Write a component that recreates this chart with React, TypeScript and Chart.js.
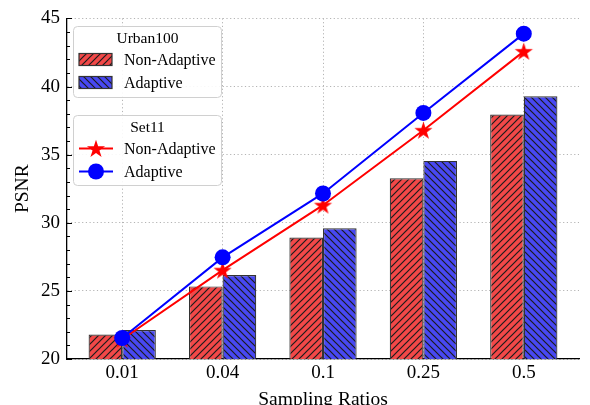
import { useEffect, useRef } from 'react';
import { Chart, registerables } from 'chart.js';

Chart.register(...registerables);

const categories = ['0.01', '0.04', '0.1', '0.25', '0.5'];
const urban100NonAdaptive = [21.8, 25.33, 28.92, 33.27, 37.94];
const urban100Adaptive = [22.13, 26.16, 29.6, 34.54, 39.28];
const set11NonAdaptive = [21.45, 26.52, 31.29, 36.79, 42.58];
const set11Adaptive = [21.54, 27.46, 32.15, 38.06, 43.88];
const yTickValues = [20, 25, 30, 35, 40, 45];
const legendTitles = ['Urban100', 'Set11'];
const seriesLabels = ['Non-Adaptive', 'Adaptive'];
const xTitle = 'Sampling Ratios';
const yTitle = 'PSNR';

const RED = '#f24848';
const BLUE = '#4848f2';
const LINE_RED = '#ff0000';
const LINE_BLUE = '#0000ff';
const SERIF = '"Liberation Serif", "DejaVu Serif", serif';
const GRID = '#b4b4b4';
const W = 590;
const H = 420;

function makeHatch(ctx: CanvasRenderingContext2D, fill: string, dir: string) {
  const s = 7;
  const c = document.createElement('canvas');
  c.width = s;
  c.height = s;
  const g = c.getContext('2d')!;
  g.fillStyle = fill;
  g.fillRect(0, 0, s, s);
  g.strokeStyle = '#1c1c1c';
  g.lineWidth = 1.2;
  g.beginPath();
  if (dir === '/') {
    g.moveTo(0, s); g.lineTo(s, 0);
    g.moveTo(-1, 1); g.lineTo(1, -1);
    g.moveTo(s - 1, s + 1); g.lineTo(s + 1, s - 1);
  } else {
    g.moveTo(0, 0); g.lineTo(s, s);
    g.moveTo(-1, s - 1); g.lineTo(1, s + 1);
    g.moveTo(s - 1, -1); g.lineTo(s + 1, 1);
  }
  g.stroke();
  return ctx.createPattern(c, 'repeat')!;
}

function starPath(ctx: CanvasRenderingContext2D, cx: number, cy: number, R: number) {
  const r = R * 0.382;
  ctx.beginPath();
  for (let i = 0; i < 10; i++) {
    const rad = i % 2 === 0 ? R : r;
    const a = -Math.PI / 2 + (i * Math.PI) / 5;
    const px = cx + rad * Math.cos(a);
    const py = cy + rad * Math.sin(a);
    if (i === 0) ctx.moveTo(px, py); else ctx.lineTo(px, py);
  }
  ctx.closePath();
}

function makeStar(color: string, R: number) {
  const size = Math.ceil(R * 2 + 2);
  const c = document.createElement('canvas');
  c.width = size;
  c.height = size;
  const g = c.getContext('2d')!;
  g.fillStyle = color;
  starPath(g, size / 2, size / 2 + 0.8, R);
  g.fill();
  return c;
}

const minorTicksPlugin = {
  id: 'minorTicks',
  afterDraw(chart: any) {
    const { ctx, chartArea } = chart;
    const y = chart.scales.y;
    ctx.save();
    ctx.strokeStyle = '#000';
    ctx.lineWidth = 1;
    for (let v = y.min; v <= y.max; v += 1) {
      const py = Math.round(y.getPixelForValue(v)) + 0.5;
      const len = v % 5 === 0 ? 5 : 3;
      ctx.beginPath();
      ctx.moveTo(chartArea.left, py);
      ctx.lineTo(chartArea.left + len, py);
      ctx.stroke();
    }
    ctx.restore();
  },
};

function roundRect(ctx: CanvasRenderingContext2D, x: number, y: number, w: number, h: number, r: number) {
  ctx.beginPath();
  ctx.moveTo(x + r, y);
  ctx.lineTo(x + w - r, y);
  ctx.arcTo(x + w, y, x + w, y + r, r);
  ctx.lineTo(x + w, y + h - r);
  ctx.arcTo(x + w, y + h, x + w - r, y + h, r);
  ctx.lineTo(x + r, y + h);
  ctx.arcTo(x, y + h, x, y + h - r, r);
  ctx.lineTo(x, y + r);
  ctx.arcTo(x, y, x + r, y, r);
  ctx.closePath();
}

const legendPlugin = {
  id: 'twoLegends',
  afterDraw(chart: any) {
    const ctx: CanvasRenderingContext2D = chart.ctx;
    const ds = chart.data.datasets;
    const groups = [
      { title: legendTitles[0], box: { x: 73.5, y: 26.5, w: 148, h: 71 }, kind: 'bar', items: [0, 1] },
      { title: legendTitles[1], box: { x: 73.5, y: 115.5, w: 148, h: 70 }, kind: 'line', items: [2, 3] },
    ];
    ctx.save();
    for (const g of groups) {
      const { x, y, w, h } = g.box;
      roundRect(ctx, x, y, w, h, 4);
      ctx.fillStyle = 'rgba(255,255,255,0.9)';
      ctx.fill();
      ctx.strokeStyle = '#d0d0d0';
      ctx.lineWidth = 1;
      ctx.stroke();
      ctx.fillStyle = '#000';
      ctx.font = `15.5px ${SERIF}`;
      ctx.textAlign = 'center';
      ctx.textBaseline = 'middle';
      ctx.fillText(g.title, x + w / 2, y + 12);
      g.items.forEach((di, k) => {
        const d = ds[di];
        const rowY = y + 33 + k * 23;
        if (g.kind === 'bar') {
          ctx.fillStyle = d.backgroundColor;
          ctx.fillRect(79, rowY - 6, 33, 12);
          ctx.strokeStyle = '#333';
          ctx.lineWidth = 1.2;
          ctx.strokeRect(79, rowY - 6, 33, 12);
        } else {
          ctx.strokeStyle = d.borderColor;
          ctx.lineWidth = 2;
          ctx.beginPath();
          ctx.moveTo(79, rowY);
          ctx.lineTo(113, rowY);
          ctx.stroke();
          ctx.fillStyle = d.borderColor;
          if (d.pointStyle === 'circle') {
            ctx.beginPath();
            ctx.arc(96, rowY, 8, 0, Math.PI * 2);
            ctx.fill();
          } else {
            starPath(ctx, 96, rowY + 0.8, 9.5);
            ctx.fill();
          }
        }
        ctx.fillStyle = '#000';
        ctx.font = `16px ${SERIF}`;
        ctx.textAlign = 'left';
        ctx.textBaseline = 'middle';
        ctx.fillText(d.label, 124, rowY + 1);
      });
    }
    ctx.restore();
  },
};

export default function App() {
  const ref = useRef<HTMLCanvasElement>(null);
  useEffect(() => {
    const canvas = ref.current!;
    const ctx = canvas.getContext('2d')!;
    const redHatch = makeHatch(ctx, RED, '/');
    const blueHatch = makeHatch(ctx, BLUE, '\\');
    const star = makeStar(LINE_RED, 9.5);
    const toXY = (arr: number[]) => arr.map((v, i) => ({ x: i, y: v }));

    const chart = new Chart(canvas, {
      type: 'bar',
      data: {
        datasets: [
          {
            type: 'bar',
            label: seriesLabels[0],
            data: toXY(urban100NonAdaptive),
            backgroundColor: redHatch,
            borderColor: '#333',
            borderWidth: 1.2,
            borderSkipped: 'start',
            categoryPercentage: 0.67,
            barPercentage: 1,
            order: 2,
          },
          {
            type: 'bar',
            label: seriesLabels[1],
            data: toXY(urban100Adaptive),
            backgroundColor: blueHatch,
            borderColor: '#333',
            borderWidth: 1.2,
            borderSkipped: 'start',
            categoryPercentage: 0.67,
            barPercentage: 1,
            order: 2,
          },
          {
            type: 'line',
            label: seriesLabels[0],
            data: toXY(set11NonAdaptive),
            borderColor: LINE_RED,
            backgroundColor: LINE_RED,
            borderWidth: 2,
            pointStyle: star,
            pointRadius: 9,
            tension: 0,
            fill: false,
            order: 1,
          },
          {
            type: 'line',
            label: seriesLabels[1],
            data: toXY(set11Adaptive),
            borderColor: LINE_BLUE,
            backgroundColor: LINE_BLUE,
            borderWidth: 2,
            pointStyle: 'circle',
            pointRadius: 8,
            pointBorderWidth: 0,
            tension: 0,
            fill: false,
            order: 0,
          },
        ] as any,
      },
      options: {
        responsive: false,
        animation: false,
        devicePixelRatio: 1,
        layout: { padding: { top: 18, right: 0, left: 0, bottom: 0 } },
        plugins: {
          legend: { display: false },
          tooltip: { enabled: false },
        },
        scales: {
          x: {
            type: 'linear',
            min: -0.55,
            max: 4.55,
            offset: false,
            afterBuildTicks: (s: any) => {
              s.ticks = categories.map((_, i) => ({ value: i }));
            },
            afterFit: (s: any) => {
              s.height = H - 359;
            },
            ticks: {
              callback: (v: any) => categories[v] ?? '',
              font: { family: SERIF, size: 19 },
              color: '#000',
              padding: 3,
              maxRotation: 0,
              autoSkip: false,
            },
            grid: { color: GRID, lineWidth: 1, drawTicks: false, offset: false },
            border: { display: true, color: '#000', width: 1.3, dash: [1.2, 2.5] },
            title: {
              display: true,
              text: xTitle,
              font: { family: SERIF, size: 19.5 },
              color: '#000',
              padding: { top: 0, bottom: 8 },
            },
          },
          y: {
            type: 'linear',
            min: 20,
            max: 45,
            afterBuildTicks: (s: any) => {
              s.ticks = yTickValues.map((v) => ({ value: v }));
            },
            afterFit: (s: any) => {
              s.width = 67;
            },
            ticks: {
              font: { family: SERIF, size: 19 },
              color: '#000',
              padding: 7,
            },
            grid: { color: GRID, lineWidth: 1, drawTicks: false },
            border: { display: true, color: '#000', width: 1.3, dash: [1.2, 2.5] },
            title: {
              display: true,
              text: yTitle,
              font: { family: SERIF, size: 19.5 },
              color: '#000',
              padding: { top: 11, bottom: 0 },
            },
          },
        },
      } as any,
      plugins: [minorTicksPlugin, legendPlugin],
    });
    return () => chart.destroy();
  }, []);

  return (
    <div style={{ position: 'absolute', left: 0, top: 0, width: W, height: H, background: '#fff' }}>
      <canvas ref={ref} width={W} height={H} style={{ display: 'block' }} />
    </div>
  );
}
